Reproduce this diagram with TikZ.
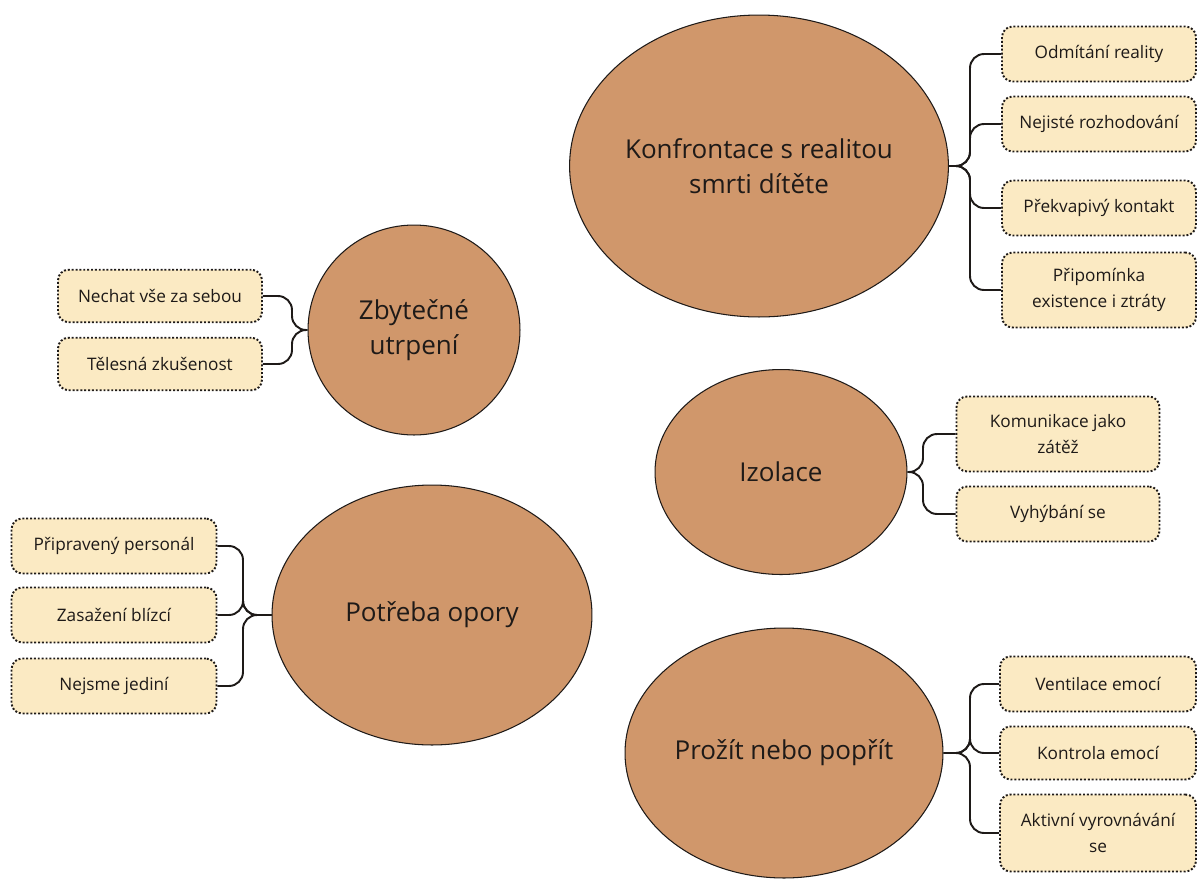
\documentclass[tikz,border=0pt]{standalone}
\usepackage{fontspec}
\setmainfont{Open Sans}
\usetikzlibrary{shapes.geometric}
\definecolor{barvaTema}{HTML}{D0976B}
\definecolor{barvaPodtema}{HTML}{FBEAC3}
\definecolor{inkoust}{HTML}{1E1A18}

\begin{document}
\begin{tikzpicture}[
    x=0.02cm, y=-0.02cm,
    tema/.style={ellipse, draw=inkoust, line width=0.6pt, fill=barvaTema, inner sep=0pt,
        align=center, text=inkoust, font=\fontsize{14.8}{19.8}\selectfont},
    podtema/.style={draw=inkoust, line width=1.1pt, dash pattern=on 1.1pt off 1.1pt,
        rounded corners=6pt, fill=barvaPodtema, inner sep=0pt, align=center,
        text=inkoust, font=\fontsize{9.8}{14.5}\selectfont},
    vetev/.style={draw=inkoust, line width=1.1pt, rounded corners=8pt}
]
    \useasboundingbox (0,0) rectangle (1198,880);

    % Konfrontace s realitou
    \node[tema, minimum width=7.36cm, minimum height=6.04cm] (konfrontace) at (759,166)
        {Konfrontace s realitou\\smrti dítěte};
    \coordinate (konfrontace-osa) at (970,166);
    \foreach \y/\h/\txt [count=\i] in {54/1.1/Odmítání reality,124/1.1/Nejisté rozhodování,
        208/1.1/Překvapivý kontakt,290/1.5/{Připomínka\\existence i ztráty}} {
        \node[podtema, minimum width=3.88cm, minimum height=\h cm] (konfrontace\i) at (1099,\y) {\txt};
        \draw[vetev] (konfrontace.east) -- (konfrontace-osa) -- (konfrontace-osa |- konfrontace\i)
            -- (konfrontace\i.west);
    }

    % Zbytecne utrpeni
    \node[tema, minimum width=4.24cm, minimum height=4.2cm] (utrpeni) at (414,330)
        {Zbytečné\\utrpení};
    \coordinate (utrpeni-osa) at (292,330);
    \foreach \y/\txt [count=\i] in {296/Nechat vše za sebou,364/Tělesná zkušenost} {
        \node[podtema, minimum width=4.08cm, minimum height=1.05cm] (utrpeni\i) at (160,\y) {\txt};
        \draw[vetev] (utrpeni.west) -- (utrpeni-osa) -- (utrpeni-osa |- utrpeni\i)
            -- (utrpeni\i.east);
    }

    % Izolace
    \node[tema, minimum width=5.04cm, minimum height=4.1cm] (izolace) at (781,472) {Izolace};
    \coordinate (izolace-osa) at (923,472);
    \foreach \y/\h/\txt [count=\i] in {434/1.5/{Komunikace jako\\zátěž},514/1.1/Vyhýbání se} {
        \node[podtema, minimum width=4.06cm, minimum height=\h cm] (izolace\i) at (1058,\y) {\txt};
        \draw[vetev] (izolace.east) -- (izolace-osa) -- (izolace-osa |- izolace\i)
            -- (izolace\i.west);
    }

    % Potreba opory
    \node[tema, minimum width=6.4cm, minimum height=5.2cm] (opora) at (432,615) {Potřeba opory};
    \coordinate (opora-osa) at (243,615);
    \foreach \y/\txt [count=\i] in {546/Připravený personál,615/Zasažení blízcí,686/Nejsme jediní} {
        \node[podtema, minimum width=4.1cm, minimum height=1.1cm] (opora\i) at (114,\y) {\txt};
        \draw[vetev] (opora.west) -- (opora-osa) -- (opora-osa |- opora\i)
            -- (opora\i.east);
    }

    % Prozit nebo poprit
    \node[tema, minimum width=6.36cm, minimum height=5.0cm] (prozit) at (784,753)
        {Prožít nebo popřít};
    \coordinate (prozit-osa) at (970,753);
    \foreach \y/\h/\txt [count=\i] in {684/1.1/Ventilace emocí,753/1.06/Kontrola emocí,
        833/1.54/{Aktivní vyrovnávání\\se}} {
        \node[podtema, minimum width=3.92cm, minimum height=\h cm] (prozit\i) at (1098,\y) {\txt};
        \draw[vetev] (prozit.east) -- (prozit-osa) -- (prozit-osa |- prozit\i)
            -- (prozit\i.west);
    }
\end{tikzpicture}
\end{document}
